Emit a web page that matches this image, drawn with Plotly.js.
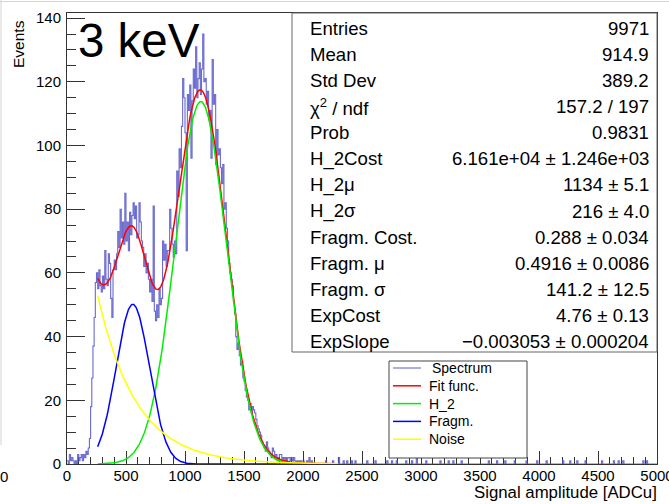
<!DOCTYPE html>
<html>
<head>
<meta charset="utf-8">
<script src="https://cdn.plot.ly/plotly-3.0.1.min.js"></script>
<style>
  html, body { margin: 0; padding: 0; background: #ffffff; }
  #plot { width: 669px; height: 504px; }
</style>
</head>
<body>
<div id="plot"></div>
<script>
// ---- Spectrum: counts per 10 ADC bin, 0 .. 2100 ADC ----
const binWidth = 10;
const counts = [
  1, 0, 3, 1, 2, 1, 0, 1, 0, 3,
  1, 2, 3, 1, 3, 2, 4, 3, 5, 8,
  18, 27, 37, 46, 57, 60, 55, 61, 56, 54,
  59, 55, 67, 58, 56, 66, 63, 52, 46, 61,
  64, 61, 66, 73, 68, 80, 71, 76, 69, 85,
  70, 76, 67, 79, 72, 78, 82, 77, 81, 71,
  72, 82, 76, 70, 68, 62, 66, 60, 63, 58,
  54, 58, 51, 81, 48, 45, 50, 46, 55, 50,
  52, 70, 64, 69, 62, 67, 67, 80, 74, 69,
  65, 70, 66, 92, 84, 99, 93, 106, 121, 115,
  104, 67, 116, 111, 119, 96, 114, 124, 118, 131,
  115, 121, 126, 116, 124, 135, 120, 121, 113, 117,
  108, 111, 96, 127, 113, 116, 94, 105, 97, 99,
  93, 88, 94, 80, 82, 74, 70, 63, 60, 58,
  56, 51, 47, 40, 36, 38, 34, 31, 32, 27,
  26, 23, 21, 20, 17, 19, 16, 18, 17, 16,
  14, 12, 11, 10, 9, 7, 6, 5, 4, 7,
  5, 4, 3, 2, 5, 4, 2, 3, 1, 2,
  3, 3, 1, 2, 1, 2, 1, 2, 2, 1,
  2, 1, 2, 1, 0, 1, 0, 1, 0, 1,
  1, 0, 0, 1, 0, 2, 0, 1, 0, 0
];
// sparse tail above 2100 ADC: bin lower edge and its count
const tailEdges  = [2190, 2250, 2300, 2340, 2370, 2410, 2440, 2540, 2610, 2710, 2750, 2790,
                    2870, 2920, 2960, 3040, 3160, 3230, 3270, 3340, 3570, 3640, 3710, 3790,
                    3890, 3980, 4060, 4200, 4260, 4320, 4390, 4530, 4630, 4670, 4710, 4880, 4910];
const tailCounts = [1, 1, 2, 1, 1, 1, 1, 1, 1, 1, 1, 1,
                    1, 1, 2, 1, 1, 1, 1, 1, 1, 1, 1, 1,
                    1, 1, 1, 1, 1, 1, 1, 1, 1, 1, 1, 1, 1];
const xMax = 5000;

// ---- fit result ----
const h2Cost = 6.161e4, h2Mu = 1134, h2Sigma = 216;
const fragCost = 0.288, fragMuRel = 0.4916, fragSigma = 141.2;
const expCost = 4.76, expSlope = -0.003053;
const fitRange = [260, 2300];

// ---- statistics box text ----
const statLabels = ["Entries", "Mean", "Std Dev", "χ<sup>2</sup> / ndf", "Prob", "H_2Cost", "H_2μ", "H_2σ",
                    "Fragm. Cost.", "Fragm. μ", "Fragm. σ", "ExpCost", "ExpSlope"];
const statValues = ["9971", "914.9", "389.2", "157.2 / 197", "0.9831", "6.161e+04 ± 1.246e+03",
                    "1134 ± 5.1", "216 ± 4.0", "0.288 ± 0.034", "0.4916 ± 0.0086", "141.2 ± 12.5",
                    "4.76 ± 0.13", "−0.003053 ± 0.000204"];

// ---- legend entries ----
const legendNames  = ["Spectrum", "Fit func.", "H_2", "Fragm.", "Noise"];
const legendColors = ["rgba(80,80,200,0.85)", "#ff0000", "#00ee00", "#0000ff", "#ffff00"];

// full bin array
const nBins = xMax / binWidth;
const bins = new Array(nBins).fill(0);
counts.forEach((c, i) => { bins[i] = c; });
tailEdges.forEach((e, k) => { bins[Math.round(e / binWidth)] += tailCounts[k]; });

// step outline: left edges + final edge
const hx = [], hy = [];
for (let i = 0; i < nBins; i++) { hx.push(i * binWidth); hy.push(bins[i]); }
hx.push(xMax); hy.push(bins[nBins - 1]);

// fit components
const SQ2PI = Math.sqrt(2 * Math.PI);
const gH2 = x => h2Cost / (SQ2PI * h2Sigma) * Math.exp(-Math.pow(x - h2Mu, 2) / (2 * h2Sigma * h2Sigma));
const fragMu = fragMuRel * h2Mu;
const gFrag = x => fragCost * h2Cost / (SQ2PI * fragSigma) * Math.exp(-Math.pow(x - fragMu, 2) / (2 * fragSigma * fragSigma));
const noise = x => Math.exp(expCost + expSlope * x);
const fx = [];
for (let x = fitRange[0]; x <= fitRange[1]; x += 5) fx.push(x);
const yH2 = fx.map(gH2), yFrag = fx.map(gFrag), yNoise = fx.map(noise);
const yTot = fx.map((x, i) => yH2[i] + yFrag[i] + yNoise[i]);

const traces = [
  { x: hx, y: hy, type: 'scatter', mode: 'lines', line: { shape: 'hv', color: legendColors[0], width: 1.1 }, hoverinfo: 'skip' },
  { x: fx, y: yTot,   type: 'scatter', mode: 'lines', line: { color: legendColors[1], width: 1.5 } },
  { x: fx, y: yH2,    type: 'scatter', mode: 'lines', line: { color: legendColors[2], width: 1.5 } },
  { x: fx, y: yFrag,  type: 'scatter', mode: 'lines', line: { color: legendColors[3], width: 1.5 } },
  { x: fx, y: yNoise, type: 'scatter', mode: 'lines', line: { color: legendColors[4], width: 1.5 } }
];

// pixel helpers for the frame (plot area 67..657 x 13..464)
const PL = 67, PR = 657, PT = 13, PB = 464;
const px = p => (p - PL) / (PR - PL);
const py = p => (PB - p) / (PB - PT);

const FONT = 'Liberation Sans, Arial, Helvetica, sans-serif';
const shapes = [];
const annotations = [];

// canvas border
shapes.push({ type: 'line', xref: 'paper', yref: 'paper', x0: px(0), x1: px(669), y0: py(1.5), y1: py(1.5), line: { color: '#d4d4d4', width: 1 } });
shapes.push({ type: 'line', xref: 'paper', yref: 'paper', x0: px(1), x1: px(1), y0: py(0), y1: py(445), line: { color: '#d4d4d4', width: 1 } });

// statistics box
shapes.push({ type: 'rect', xref: 'paper', yref: 'paper', x0: px(292), x1: px(657), y0: py(352), y1: py(13),
              line: { color: '#666', width: 1 }, fillcolor: '#ffffff' });
statLabels.forEach((t, i) => {
  const yc = 28.3 + 26.1 * i;
  annotations.push({ xref: 'paper', yref: 'paper', x: px(308), y: py(yc), xanchor: 'left', yanchor: 'middle',
                     text: t, showarrow: false, font: { family: FONT, size: 18.6, color: '#000' } });
  annotations.push({ xref: 'paper', yref: 'paper', x: px(651), y: py(yc), xanchor: 'right', yanchor: 'middle',
                     text: statValues[i], showarrow: false, font: { family: FONT, size: 18.6, color: '#000' } });
});

// legend box
shapes.push({ type: 'rect', xref: 'paper', yref: 'paper', x0: px(389), x1: px(527), y0: py(458), y1: py(361),
              line: { color: '#444', width: 1 }, fillcolor: '#ffffff' });
legendNames.forEach((t, i) => {
  const yc = 368 + 17.8 * i;
  shapes.push({ type: 'line', xref: 'paper', yref: 'paper', x0: px(393), x1: px(421), y0: py(yc), y1: py(yc),
                line: { color: legendColors[i], width: i === 0 ? 1.1 : 1.5 } });
  annotations.push({ xref: 'paper', yref: 'paper', x: px(i === 0 ? 430 : 427), y: py(yc), xanchor: 'left', yanchor: 'middle',
                     text: t, showarrow: false, font: { family: FONT, size: 14, color: '#000' } });
});

// big label
annotations.push({ xref: 'paper', yref: 'paper', x: px(76), y: py(40.5), xanchor: 'left', yanchor: 'middle',
                   text: '3 keV', showarrow: false, font: { family: FONT, size: 47.5, color: '#000' } });
// axis titles
annotations.push({ xref: 'paper', yref: 'paper', x: px(18), y: py(18), xanchor: 'center', yanchor: 'top',
                   text: 'Events', textangle: -90, showarrow: false, font: { family: FONT, size: 15.5, color: '#000' } });
annotations.push({ xref: 'paper', yref: 'paper', x: px(659), y: py(493), xanchor: 'right', yanchor: 'middle',
                   text: 'Signal amplitude [ADCu]', showarrow: false, font: { family: FONT, size: 16.8, color: '#000' } });
// stray label at the left edge
annotations.push({ xref: 'paper', yref: 'paper', x: px(4), y: py(476), xanchor: 'center', yanchor: 'middle',
                   text: '0', showarrow: false, font: { family: FONT, size: 15, color: '#000' } });

const axisCommon = {
  showgrid: false, zeroline: false, showline: true, mirror: true,
  linecolor: '#333', linewidth: 1, ticks: 'inside', tickcolor: '#333', tickwidth: 1,
  tickfont: { family: FONT, size: 15, color: '#000' }, layer: 'below traces', fixedrange: true,
  ticklabeloverflow: 'allow'
};

const layout = {
  width: 669, height: 504,
  margin: { l: PL, r: 669 - PR, t: PT, b: 504 - PB, pad: 0 },
  paper_bgcolor: '#ffffff', plot_bgcolor: '#ffffff',
  showlegend: false,
  xaxis: Object.assign({}, axisCommon, {
    range: [0, xMax], tick0: 0, dtick: 500, ticklen: 13.5,
    minor: { dtick: 100, ticklen: 7, ticks: 'inside', tickcolor: '#333', tickwidth: 1 },
    ticklabelstandoff: -2
  }),
  yaxis: Object.assign({}, axisCommon, {
    range: [0, 141.6], tick0: 0, dtick: 20, ticklen: 18,
    minor: { dtick: 5, ticklen: 9, ticks: 'inside', tickcolor: '#333', tickwidth: 1 },
    ticklabelstandoff: 2
  }),
  shapes: shapes,
  annotations: annotations
};

Plotly.newPlot('plot', traces, layout, { displayModeBar: false, staticPlot: true });
</script>
</body>
</html>
